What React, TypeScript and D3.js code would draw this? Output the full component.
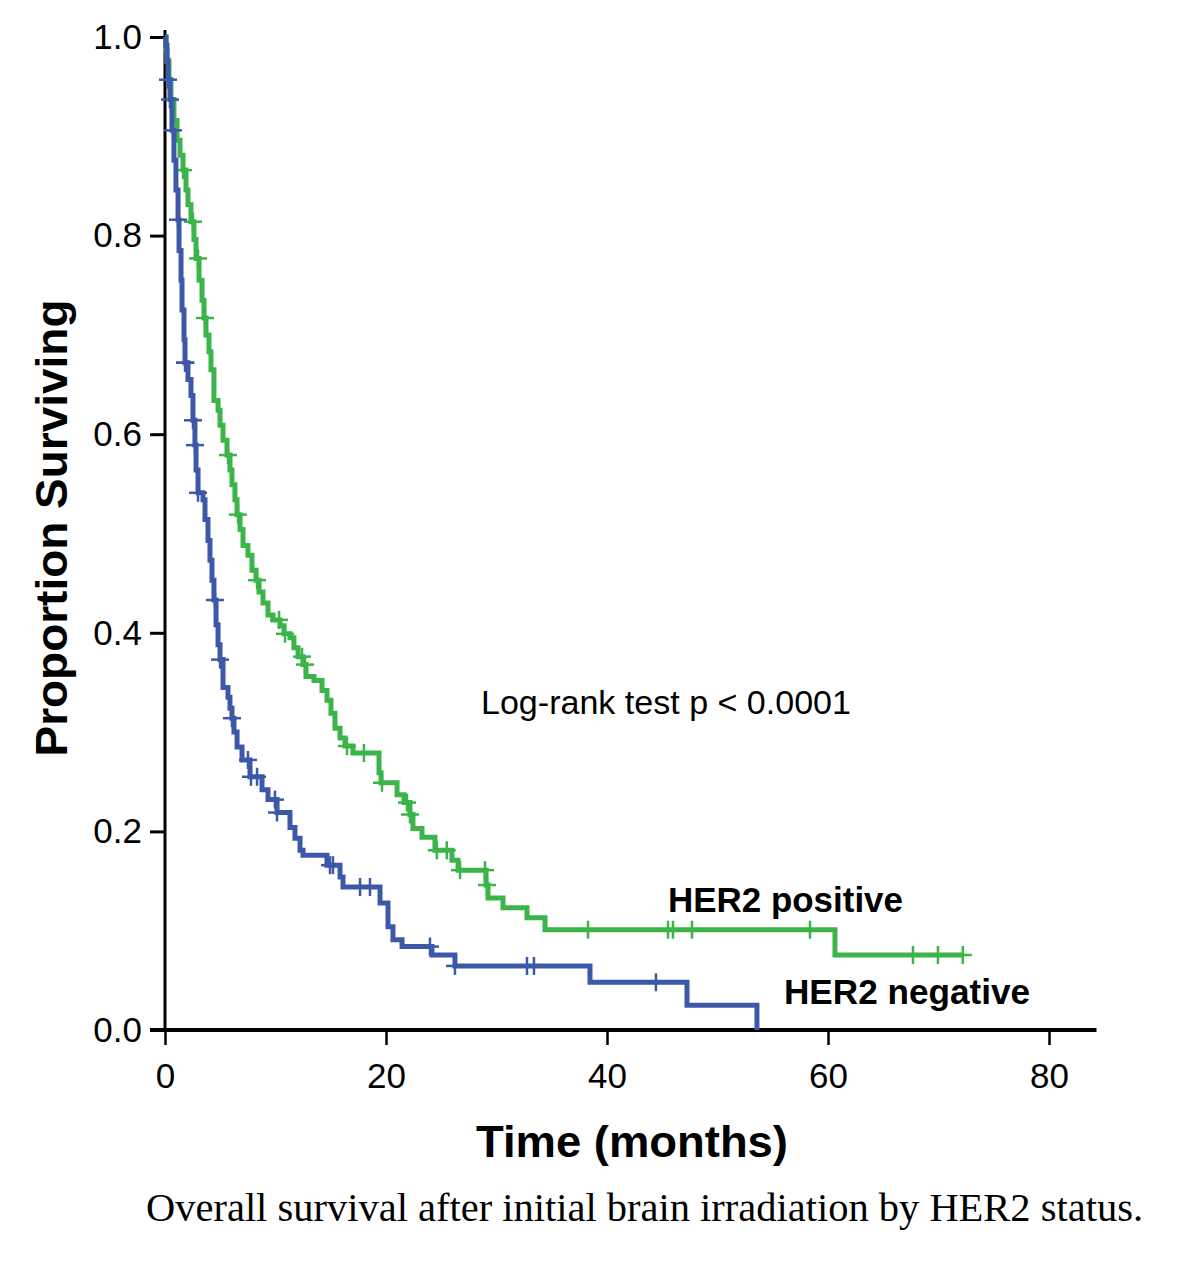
import React, { useEffect, useRef } from "react";
import * as d3 from "d3";

// HER2 positive: step times (months) and survival after each step
const posTimes = [0.09, 0.18, 0.36, 0.54, 0.81, 1.09, 1.36, 1.63, 1.9, 2.08, 2.35, 2.62, 2.81, 3.08, 3.35, 3.53, 3.71, 3.98, 4.16, 4.43, 4.8, 4.98, 5.25, 5.61, 5.88, 6.06, 6.33, 6.52, 6.79, 7.06, 7.51, 7.87, 8.24, 8.51, 8.87, 9.32, 9.77, 10.41, 10.77, 11.31, 11.67, 12.04, 12.49, 12.76, 13.48, 14.21, 14.66, 15.02, 15.38, 15.84, 16.29, 17.01, 19.37, 19.55, 21.0, 21.63, 22.17, 22.44, 23.26, 24.43, 25.97, 26.52, 29.05, 29.23, 30.59, 32.76, 34.39, 60.63];
const posSurv = [0.987, 0.975, 0.957, 0.937, 0.916, 0.896, 0.881, 0.866, 0.846, 0.831, 0.814, 0.796, 0.777, 0.755, 0.735, 0.717, 0.7, 0.683, 0.665, 0.634, 0.624, 0.609, 0.594, 0.579, 0.564, 0.549, 0.534, 0.519, 0.504, 0.488, 0.478, 0.463, 0.453, 0.441, 0.43, 0.418, 0.413, 0.407, 0.399, 0.395, 0.385, 0.376, 0.368, 0.356, 0.352, 0.342, 0.332, 0.319, 0.304, 0.294, 0.286, 0.279, 0.259, 0.249, 0.237, 0.229, 0.217, 0.203, 0.194, 0.181, 0.171, 0.161, 0.146, 0.133, 0.123, 0.113, 0.101, 0.0755];
const posLastFollowUp = 72.2;
const posCensored = [1.63, 2.53, 2.99, 3.62, 5.7, 6.61, 8.33, 10.32, 10.86, 12.4, 12.67, 16.47, 18.0, 19.64, 21.9, 22.17, 24.6, 25.5, 26.7, 28.96, 29.14, 38.28, 45.52, 45.97, 47.69, 58.37, 67.69, 69.95, 72.2];

// HER2 negative
const negTimes = [0.09, 0.18, 0.27, 0.45, 0.63, 0.81, 0.99, 1.18, 1.27, 1.45, 1.54, 1.72, 1.81, 2.08, 2.35, 2.53, 2.71, 2.81, 2.99, 3.44, 3.62, 3.89, 4.07, 4.25, 4.43, 4.62, 4.8, 4.98, 5.25, 5.7, 5.88, 6.06, 6.24, 6.52, 6.97, 7.69, 8.78, 9.32, 10.14, 11.31, 11.76, 12.22, 12.49, 14.66, 15.84, 16.11, 19.46, 20.18, 20.63, 21.45, 24.16, 26.24, 38.46, 47.24, 53.57];
const negSurv = [0.992, 0.977, 0.957, 0.937, 0.906, 0.876, 0.846, 0.816, 0.785, 0.755, 0.725, 0.695, 0.672, 0.655, 0.639, 0.614, 0.589, 0.564, 0.541, 0.534, 0.514, 0.493, 0.473, 0.453, 0.433, 0.408, 0.388, 0.373, 0.345, 0.335, 0.324, 0.314, 0.3, 0.285, 0.272, 0.255, 0.242, 0.232, 0.219, 0.204, 0.193, 0.181, 0.176, 0.166, 0.154, 0.144, 0.128, 0.104, 0.091, 0.084, 0.0755, 0.0645, 0.048, 0.025, 0.0];
const negLastFollowUp = 53.57;
const negCensored = [0.27, 0.45, 0.72, 1.18, 1.81, 1.85, 2.53, 2.71, 2.99, 4.52, 4.98, 6.06, 7.51, 7.78, 8.33, 9.95, 10.14, 14.93, 15.2, 17.65, 18.55, 23.98, 26.24, 32.76, 33.39, 44.43];

const timeTicks = [0, 20, 40, 60, 80];
const survivalTicks = [0, 0.2, 0.4, 0.6, 0.8, 1.0];

const width = 1200;
const height = 1268;
const sans = "'Liberation Sans', Arial, sans-serif";

const x = d3.scaleLinear().domain([0, 80]).range([165, 1049]);
const y = d3.scaleLinear().domain([0, 1]).range([1030, 37]);

const stepLine = d3
  .line<[number, number]>()
  .x(d => x(d[0]))
  .y(d => y(d[1]))
  .curve(d3.curveStepAfter);

function buildCurve(times: number[], surv: number[], last: number) {
  const pts: [number, number][] = [[0, 1]];
  times.forEach((t, i) => pts.push([t, surv[i]]));
  pts.push([last, surv[surv.length - 1]]);
  return pts;
}

function survivalAt(times: number[], surv: number[], t: number) {
  let s = 1;
  times.forEach((tt, i) => {
    if (tt <= t) s = surv[i];
  });
  return s;
}

function Curve({ times, surv, last, censored, color }) {
  const pts = buildCurve(times, surv, last);
  return (
    <g>
      <path d={stepLine(pts)} fill="none" stroke={color} strokeWidth={5} />
      {censored.map((t, i) => {
        const cx = x(t);
        const cy = y(survivalAt(times, surv, t));
        return (
          <g key={i} stroke={color} strokeWidth={2.5}>
            <line x1={cx - 9} x2={cx + 9} y1={cy} y2={cy} />
            <line x1={cx} x2={cx} y1={cy - 9} y2={cy + 9} />
          </g>
        );
      })}
    </g>
  );
}

export default function App() {
  const xAxisRef = useRef<SVGGElement>(null);
  const yAxisRef = useRef<SVGGElement>(null);

  useEffect(() => {
    const gx = d3.select(xAxisRef.current);
    gx.call(d3.axisBottom(x).tickValues(timeTicks).tickSize(15).tickPadding(18).tickFormat(d3.format("d")));
    gx.select(".domain").remove();
    gx.selectAll(".tick line").attr("stroke", "#000").attr("stroke-width", 2.5);
    gx.selectAll(".tick text").attr("font-family", sans).attr("font-size", 35).attr("fill", "#000");

    const gy = d3.select(yAxisRef.current);
    gy.call(d3.axisLeft(y).tickValues(survivalTicks).tickSize(15).tickPadding(8).tickFormat(d3.format(".1f")));
    gy.select(".domain").remove();
    gy.selectAll(".tick line").attr("stroke", "#000").attr("stroke-width", 3);
    gy.selectAll(".tick text").attr("font-family", sans).attr("font-size", 35).attr("fill", "#000");
  }, []);

  return (
    <svg width={width} height={height} style={{ position: "absolute", left: 0, top: 0, background: "#fff" }}>
      <g ref={xAxisRef} transform={`translate(0,${y(0)})`} />
      <g ref={yAxisRef} transform={`translate(${x(0)},0)`} />
      <line x1={x(0)} x2={x(0)} y1={y(1) - 7} y2={y(0)} stroke="#000" strokeWidth={3} />
      <line x1={x(0) - 15} x2={x(84.3)} y1={y(0)} y2={y(0)} stroke="#000" strokeWidth={4} />

      <Curve times={posTimes} surv={posSurv} last={posLastFollowUp} censored={posCensored} color="#3bb44a" />
      <Curve times={negTimes} surv={negSurv} last={negLastFollowUp} censored={negCensored} color="#3d58a8" />

      <text x={481} y={714} fontFamily={sans} fontSize={34} textLength={370} lengthAdjust="spacingAndGlyphs">
        Log-rank test p &lt; 0.0001
      </text>
      <text x={668} y={912} fontFamily={sans} fontSize={35} fontWeight="bold" textLength={235} lengthAdjust="spacingAndGlyphs">
        HER2 positive
      </text>
      <text x={784} y={1004} fontFamily={sans} fontSize={35} fontWeight="bold" textLength={246} lengthAdjust="spacingAndGlyphs">
        HER2 negative
      </text>

      <text
        transform="translate(67,528) rotate(-90)"
        textAnchor="middle"
        fontFamily={sans}
        fontSize={45}
        fontWeight="bold"
        textLength={457}
        lengthAdjust="spacingAndGlyphs"
      >
        Proportion Surviving
      </text>
      <text x={476} y={1157} fontFamily={sans} fontSize={44} fontWeight="bold" textLength={312} lengthAdjust="spacingAndGlyphs">
        Time (months)
      </text>
      <text x={146} y={1221} fontFamily="'Liberation Serif', 'Times New Roman', serif" fontSize={40} textLength={997} lengthAdjust="spacingAndGlyphs">
        Overall survival after initial brain irradiation by HER2 status.
      </text>
    </svg>
  );
}
